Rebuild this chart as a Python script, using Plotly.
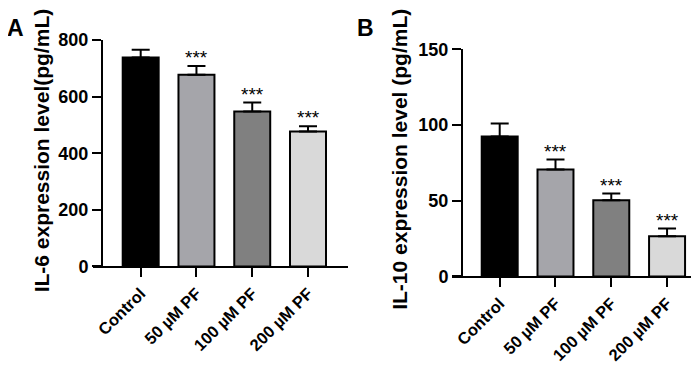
import plotly.graph_objects as go

groups = ["Control", "50 µM PF", "100 µM PF", "200 µM PF"]
il6_mean = [738, 677, 547, 477]
il6_sd = [28, 31, 32, 18]
il10_mean = [92.5, 70.6, 50.4, 26.6]
il10_sd = [8.5, 6.6, 4.4, 5.0]
bar_colors = ["#000000", "#a5a5aa", "#808080", "#d9d9d9"]
il6_ticks = [0, 200, 400, 600, 800]
il10_ticks = [0, 50, 100, 150]
stars = ["", "***", "***", "***"]

W, H = 699, 367
FONT = "Liberation Sans, Arial, sans-serif"

def px_x(p):
    return p / W

def px_y(p):
    return (H - p) / H

fig = go.Figure()

x_idx = list(range(len(groups)))

fig.add_trace(go.Bar(
    x=x_idx, y=il6_mean, width=0.645,
    marker=dict(color=bar_colors, line=dict(color="black", width=2)),
    error_y=dict(type="data", symmetric=False, array=il6_sd,
                 arrayminus=[0] * 4, color="black", thickness=2, width=9),
    xaxis="x", yaxis="y", showlegend=False,
))
fig.add_trace(go.Bar(
    x=x_idx, y=il10_mean, width=0.645,
    marker=dict(color=bar_colors, line=dict(color="black", width=2)),
    error_y=dict(type="data", symmetric=False, array=il10_sd,
                 arrayminus=[0] * 4, color="black", thickness=2, width=9),
    xaxis="x2", yaxis="y2", showlegend=False,
))

tickfont = dict(family=FONT, size=18, color="black", weight="bold")
xtickfont = dict(family=FONT, size=16.5, color="black", weight="bold")

common_x = dict(
    tickmode="array", tickvals=x_idx, ticktext=groups, tickangle=-45,
    showline=True, linecolor="black", linewidth=2,
    ticks="outside", ticklen=9, tickwidth=2, tickcolor="black",
    showgrid=False, zeroline=False, tickfont=xtickfont, fixedrange=True,
)
common_y = dict(
    showline=True, linecolor="black", linewidth=2,
    ticks="outside", ticklen=9, tickwidth=2, tickcolor="black",
    showgrid=False, zeroline=False, tickfont=tickfont, anchor="free",
    fixedrange=True,
)

fig.update_layout(
    width=W, height=H,
    margin=dict(l=0, r=0, t=0, b=0),
    paper_bgcolor="white", plot_bgcolor="white",
    font=dict(family=FONT, color="black"),
    xaxis=dict(domain=[px_x(85), px_x(340)], range=[-0.855, 3.717],
               anchor="y", **common_x),
    yaxis=dict(domain=[px_y(262.7), px_y(23.3)], range=[0, 800],
               tickvals=il6_ticks, position=px_x(94), **common_y),
    xaxis2=dict(domain=[px_x(444), px_x(697)], range=[-0.855, 3.68],
                anchor="y2", **common_x),
    yaxis2=dict(domain=[px_y(273.3), px_y(33.3)], range=[0, 150],
                tickvals=il10_ticks, position=px_x(454), **common_y),
)

annotations = []
for i, s in enumerate(stars):
    if s:
        annotations.append(dict(x=i, y=il6_mean[i] + il6_sd[i], xref="x", yref="y",
                                text=s, showarrow=False, yanchor="bottom",
                                yshift=-4, font=dict(family=FONT, size=19, color="black")))
        annotations.append(dict(x=i, y=il10_mean[i] + il10_sd[i], xref="x2", yref="y2",
                                text=s, showarrow=False, yanchor="bottom",
                                yshift=-4, font=dict(family=FONT, size=19, color="black")))

annotations += [
    dict(x=px_x(33), y=px_y(140), xref="paper", yref="paper",
         text="IL-6 expression level(pg/mL)", textangle=-90, showarrow=False,
         xanchor="center", yanchor="middle",
         font=dict(family=FONT, size=21, color="black", weight="bold")),
    dict(x=px_x(392), y=px_y(150), xref="paper", yref="paper",
         text="IL-10 expression level (pg/mL)", textangle=-90, showarrow=False,
         xanchor="center", yanchor="middle",
         font=dict(family=FONT, size=21, color="black", weight="bold")),
    dict(x=px_x(7), y=px_y(11), xref="paper", yref="paper", text="A",
         showarrow=False, xanchor="center", yanchor="middle",
         font=dict(family=FONT, size=23, color="black", weight="bold")),
    dict(x=px_x(357), y=px_y(11), xref="paper", yref="paper", text="B",
         showarrow=False, xanchor="center", yanchor="middle",
         font=dict(family=FONT, size=23, color="black", weight="bold")),
]
fig.update_layout(annotations=annotations)

fig.write_html("out.html")
